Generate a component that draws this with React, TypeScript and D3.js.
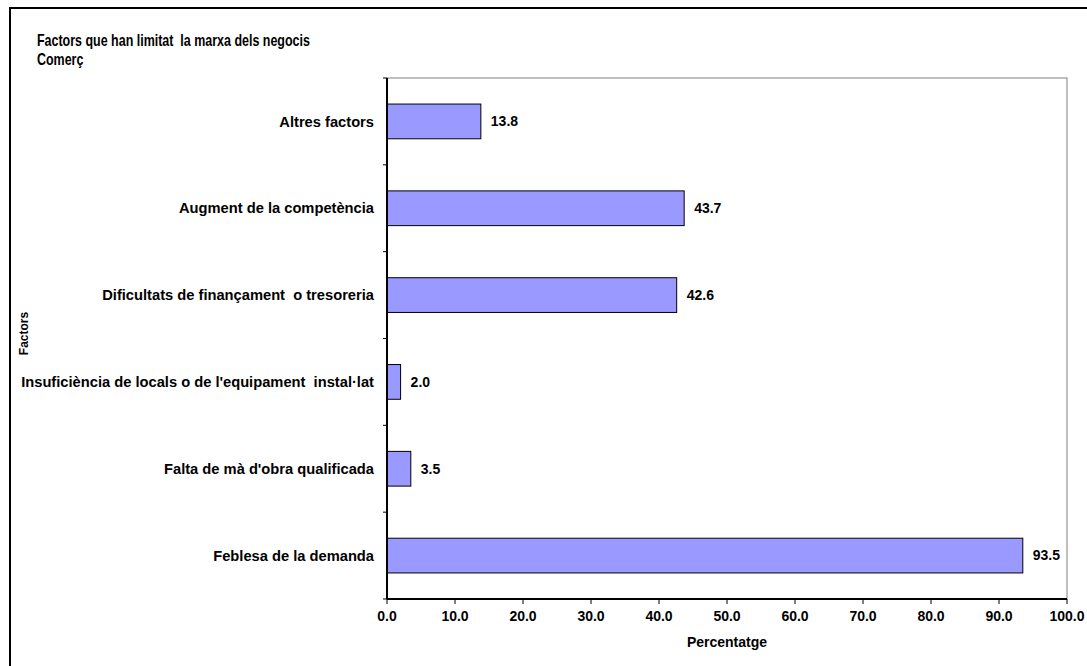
import React from 'react';
import * as d3 from 'd3';

const categories = [
  'Altres factors',
  'Augment de la competència',
  'Dificultats de finançament  o tresoreria',
  "Insuficiència de locals o de l'equipament  instal·lat",
  "Falta de mà d'obra qualificada",
  'Feblesa de la demanda'
];
const values = [13.8, 43.7, 42.6, 2.0, 3.5, 93.5];
const xTicks = [0, 10, 20, 30, 40, 50, 60, 70, 80, 90, 100];

const WIDTH = 1087;
const HEIGHT = 666;
const margin = { top: 78, right: 20, bottom: 67, left: 387 };

const font = '"Liberation Sans", Arial, sans-serif';

export default function App() {
  const chartWidth = WIDTH - margin.left - margin.right;
  const chartHeight = HEIGHT - margin.top - margin.bottom;

  const xScale = d3.scaleLinear().domain([0, 100]).range([0, chartWidth]);
  const yScale = d3
    .scaleBand()
    .domain(categories)
    .range([0, chartHeight])
    .paddingInner(0.6)
    .paddingOuter(0.3);

  const step = yScale.step();

  return (
    <svg
      width={WIDTH}
      height={HEIGHT}
      style={{ position: 'absolute', left: 0, top: 0, background: '#fff' }}
    >
      {/* outer frame */}
      <rect x={10} y={8} width={WIDTH + 20} height={HEIGHT + 20} fill="#fff" stroke="#000" strokeWidth={2} />

      {/* title, condensed like Arial Narrow */}
      <g fontFamily={font} fontWeight="bold" fontSize={16} fill="#000">
        <text transform="translate(37,46) scale(0.78,1)" xmlSpace="preserve">
          Factors que han limitat  la marxa dels negocis
        </text>
        <text transform="translate(37,65) scale(0.78,1)">Comerç</text>
      </g>

      <g transform={`translate(${margin.left},${margin.top})`}>
        {/* plot border */}
        <rect x={0} y={0} width={chartWidth} height={chartHeight} fill="#fff" stroke="#808080" strokeWidth={1} />

        {/* bars */}
        {categories.map((c, i) => (
          <g key={c}>
            <rect
              x={0}
              y={yScale(c)}
              width={xScale(values[i])}
              height={yScale.bandwidth()}
              fill="#9999FF"
              stroke="#000"
              strokeWidth={1}
            />
            <text
              x={xScale(values[i]) + 10}
              y={(yScale(c) || 0) + yScale.bandwidth() / 2}
              dy="0.35em"
              fontFamily={font}
              fontWeight="bold"
              fontSize={14}
            >
              {values[i].toFixed(1)}
            </text>
            <text
              x={-13}
              y={(yScale(c) || 0) + yScale.bandwidth() / 2}
              dy="0.35em"
              textAnchor="end"
              fontFamily={font}
              fontWeight="bold"
              fontSize={14.7}
              xmlSpace="preserve"
            >
              {c}
            </text>
          </g>
        ))}

        {/* y axis */}
        <line x1={0} x2={0} y1={0} y2={chartHeight} stroke="#000" strokeWidth={2} />
        {d3.range(categories.length + 1).map(i => (
          <line key={i} x1={-4} x2={0} y1={i * step} y2={i * step} stroke="#000" />
        ))}

        {/* x axis */}
        <line x1={0} x2={chartWidth} y1={chartHeight} y2={chartHeight} stroke="#000" strokeWidth={2} />
        {xTicks.map(t => (
          <g key={t} transform={`translate(${xScale(t)},${chartHeight})`}>
            <line y1={0} y2={5} stroke="#000" />
            <text y={22} textAnchor="middle" fontFamily={font} fontWeight="bold" fontSize={14}>
              {t.toFixed(1)}
            </text>
          </g>
        ))}
        <text
          x={chartWidth / 2}
          y={chartHeight + 48}
          textAnchor="middle"
          fontFamily={font}
          fontWeight="bold"
          fontSize={14}
        >
          Percentatge
        </text>
      </g>

      <text
        transform={`translate(28,${margin.top + (HEIGHT - margin.top - margin.bottom) / 2 - 5}) rotate(-90)`}
        textAnchor="middle"
        fontFamily={font}
        fontWeight="bold"
        fontSize={12}
      >
        Factors
      </text>
    </svg>
  );
}
